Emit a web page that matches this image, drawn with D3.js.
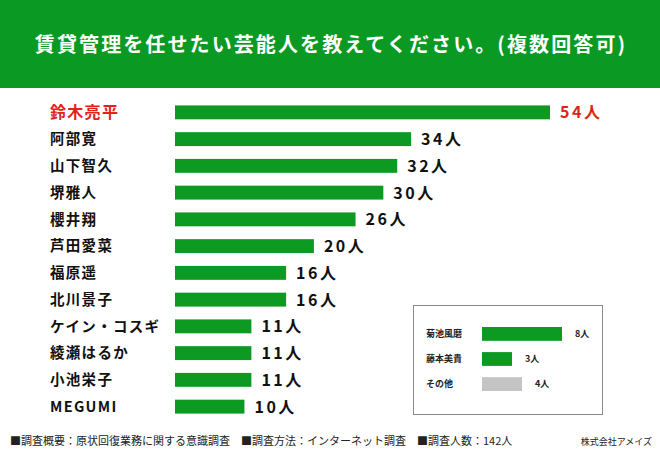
<!DOCTYPE html>
<html><head><meta charset="utf-8">
<script src="https://cdn.jsdelivr.net/npm/d3@7"></script>
<style>body{margin:0;background:#fff;} svg{display:block;font-family:"Noto Sans CJK JP","Noto Sans",sans-serif;}</style>
</head><body>
<svg id="c" width="660" height="450"></svg>
<script>
const names = ["鈴木亮平","阿部寛","山下智久","堺雅人","櫻井翔","芦田愛菜","福原遥","北川景子","ケイン・コスギ","綾瀬はるか","小池栄子","MEGUMI"];
const values = [54,34,32,30,26,20,16,16,11,11,11,10];
const subNames = ["菊池風磨","藤本美貴","その他"];
const subValues = [8,3,4];
const title = "賃貸管理を任せたい芸能人を教えてください。(複数回答可)";
const footer = "■調査概要：原状回復業務に関する意識調査　■調査方法：インターネット調査　■調査人数：142人";
const credit = "株式会社アメイズ";

const svg = d3.select("#c");
const green = "#0c9a22", red = "#e0241c";

svg.append("rect").attr("x",0).attr("y",0).attr("width",660).attr("height",88).attr("fill","#0a9a24");
svg.append("text").attr("x",331).attr("y",52).attr("text-anchor","middle").attr("fill","#fff")
  .attr("font-size",20).attr("font-weight","bold").attr("letter-spacing",2.1).text(title);

const x = d3.scaleLinear().domain([0,54]).range([175,550]);
const y = d3.scaleBand().domain(d3.range(names.length)).range([99,420]).paddingInner(0.48).paddingOuter(0.24);

const g = svg.append("g");
g.selectAll("rect.bar").data(values).join("rect").attr("class","bar")
  .attr("x",x(0)).attr("y",(d,i)=>y(i)).attr("width",d=>x(d)-x(0)).attr("height",y.bandwidth()).attr("fill",green);
g.selectAll("text.name").data(names).join("text").attr("class","name")
  .attr("x",50).attr("y",(d,i)=>y(i)+y.bandwidth()/2).attr("dy","0.36em")
  .attr("font-size",(d,i)=>i===0?16:14.5).attr("font-weight","bold")
  .attr("fill",(d,i)=>i===0?red:"#111").attr("letter-spacing",1.3).text(d=>d);
g.selectAll("text.val").data(values).join("text").attr("class","val")
  .attr("x",d=>x(d)+10).attr("y",(d,i)=>y(i)+y.bandwidth()/2).attr("dy","0.38em")
  .attr("font-size",16).attr("font-weight","bold").attr("letter-spacing",2.5)
  .attr("fill",(d,i)=>i===0?red:"#111").text(d=>d+"人");

// inset
svg.append("rect").attr("x",413.5).attr("y",305.5).attr("width",189).attr("height",109)
  .attr("fill","#fff").attr("stroke","#8a8a8a").attr("stroke-width",1);
const xs = d3.scaleLinear().domain([0,8]).range([482,562]);
const ys = d3.scaleBand().domain(d3.range(subNames.length)).range([322,396]).paddingInner(0.45).paddingOuter(0.2);
const gs = svg.append("g");
gs.selectAll("rect").data(subValues).join("rect")
  .attr("x",xs(0)).attr("y",(d,i)=>ys(i)).attr("width",d=>xs(d)-xs(0)).attr("height",ys.bandwidth())
  .attr("fill",(d,i)=>i===2?"#c4c4c4":green);
gs.selectAll("text.sn").data(subNames).join("text").attr("class","sn")
  .attr("x",426).attr("y",(d,i)=>ys(i)+ys.bandwidth()/2).attr("dy","0.36em")
  .attr("font-size",9).attr("font-weight","bold").attr("fill","#222").text(d=>d);
gs.selectAll("text.sv").data(subValues).join("text").attr("class","sv")
  .attr("x",d=>xs(d)+13).attr("y",(d,i)=>ys(i)+ys.bandwidth()/2).attr("dy","0.36em")
  .attr("font-size",9).attr("font-weight","bold").attr("fill","#222").text(d=>d+"人");

svg.append("text").attr("x",10).attr("y",445).attr("font-size",11).attr("fill","#222").text(footer);
svg.append("text").attr("x",652).attr("y",445).attr("text-anchor","end").attr("font-size",9).attr("fill","#222").text(credit);
</script>
</body></html>
